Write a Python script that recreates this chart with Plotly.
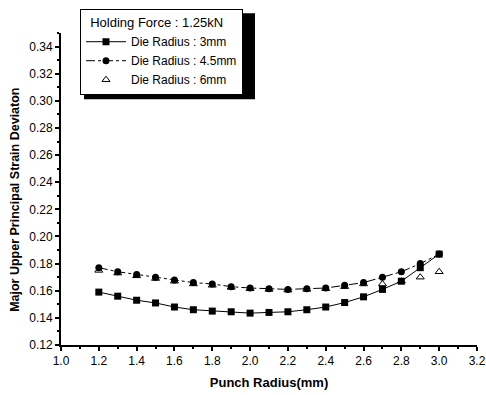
import plotly.graph_objects as go

punch_radius = [1.2, 1.3, 1.4, 1.5, 1.6, 1.7, 1.8, 1.9, 2.0, 2.1, 2.2, 2.3, 2.4, 2.5, 2.6, 2.7, 2.8, 2.9, 3.0]
die_3mm = [0.159, 0.156, 0.153, 0.151, 0.148, 0.146, 0.145, 0.1445, 0.1435, 0.144, 0.1445, 0.146, 0.148, 0.1513, 0.1555, 0.161, 0.167, 0.177, 0.187]
die_45mm = [0.177, 0.174, 0.172, 0.170, 0.168, 0.166, 0.165, 0.163, 0.162, 0.1615, 0.161, 0.1615, 0.162, 0.164, 0.166, 0.170, 0.174, 0.180, 0.187]
die_6mm = [0.175, 0.173, 0.171, 0.169, 0.167, 0.165, 0.164, 0.1625, 0.1615, 0.161, 0.1605, 0.161, 0.1615, 0.163, 0.165, 0.165, 0.167, 0.170, 0.174]

x_ticks = [1.0, 1.2, 1.4, 1.6, 1.8, 2.0, 2.2, 2.4, 2.6, 2.8, 3.0, 3.2]
y_ticks = [0.12, 0.14, 0.16, 0.18, 0.20, 0.22, 0.24, 0.26, 0.28, 0.30, 0.32, 0.34]

FONT = "Liberation Sans, Arial, sans-serif"

fig = go.Figure()
fig.add_trace(go.Scatter(
    x=punch_radius, y=die_3mm, mode="lines+markers", name="Die Radius : 3mm",
    line=dict(color="black", width=1),
    marker=dict(symbol="square", size=7, color="black"),
))
fig.add_trace(go.Scatter(
    x=punch_radius, y=die_45mm, mode="lines+markers", name="Die Radius : 4.5mm",
    line=dict(color="black", width=1, dash="dashdot"),
    marker=dict(symbol="circle", size=7, color="black"),
))
fig.add_trace(go.Scatter(
    x=punch_radius, y=die_6mm, mode="markers", name="Die Radius : 6mm",
    marker=dict(symbol="triangle-up-open", size=7, color="black", line=dict(width=1, color="black")),
))

# legend shadow (paper coords, offset below/right of the legend box)
fig.add_shape(type="rect", xref="paper", yref="paper", layer="below",
              x0=(84 - 61) / 416, x1=(255 - 61) / 416,
              y0=(345 - 96) / 316, y1=(345 - 9) / 316,
              fillcolor="black", line=dict(width=0))

# y-axis title as rotated annotation (placed slightly below the plot centre, as in the reference)
fig.add_annotation(
    text="<b>Major Upper Principal Strain Deviaton</b>",
    xref="paper", yref="paper", x=(15 - 61) / 416, y=(345 - 198) / 316,
    xanchor="center", yanchor="middle", textangle=-90, showarrow=False,
    font=dict(family=FONT, size=12.5, color="black"),
)

fig.update_layout(
    width=486, height=395,
    margin=dict(l=61, r=9, t=29, b=50),
    paper_bgcolor="white", plot_bgcolor="white",
    font=dict(family=FONT, color="black", size=12),
    showlegend=True,
    legend=dict(
        x=(80 - 61) / 416, y=(345 - 5) / 316, xanchor="left", yanchor="top",
        bgcolor="white", bordercolor="black", borderwidth=1,
        font=dict(family=FONT, size=12),
        title=dict(text="  Holding Force : 1.25kN", font=dict(family=FONT, size=13)),
        tracegroupgap=0, itemwidth=40,
    ),
    xaxis=dict(
        range=[1.0, 3.2], tickvals=x_ticks, tickformat=".1f",
        showgrid=False, zeroline=False, automargin=False,
        showline=True, linecolor="black", linewidth=2,
        ticks="outside", ticklen=4, tickwidth=2, tickcolor="black",
        minor=dict(dtick=0.1, ticks="outside", ticklen=2, tickwidth=1.5, tickcolor="black", showgrid=False),
        title=dict(text="<b>Punch Radius(mm)</b>", font=dict(family=FONT, size=13), standoff=10),
        tickfont=dict(family=FONT, size=12),
    ),
    yaxis=dict(
        range=[0.12, 0.35], tickvals=y_ticks, tickformat=".2f",
        showgrid=False, zeroline=False, automargin=False,
        showline=True, linecolor="black", linewidth=2,
        ticks="outside", ticklen=4, tickwidth=2, tickcolor="black",
        minor=dict(dtick=0.01, ticks="outside", ticklen=2, tickwidth=1.5, tickcolor="black", showgrid=False),
        tickfont=dict(family=FONT, size=12),
    ),
)

fig.write_html("out.html")
